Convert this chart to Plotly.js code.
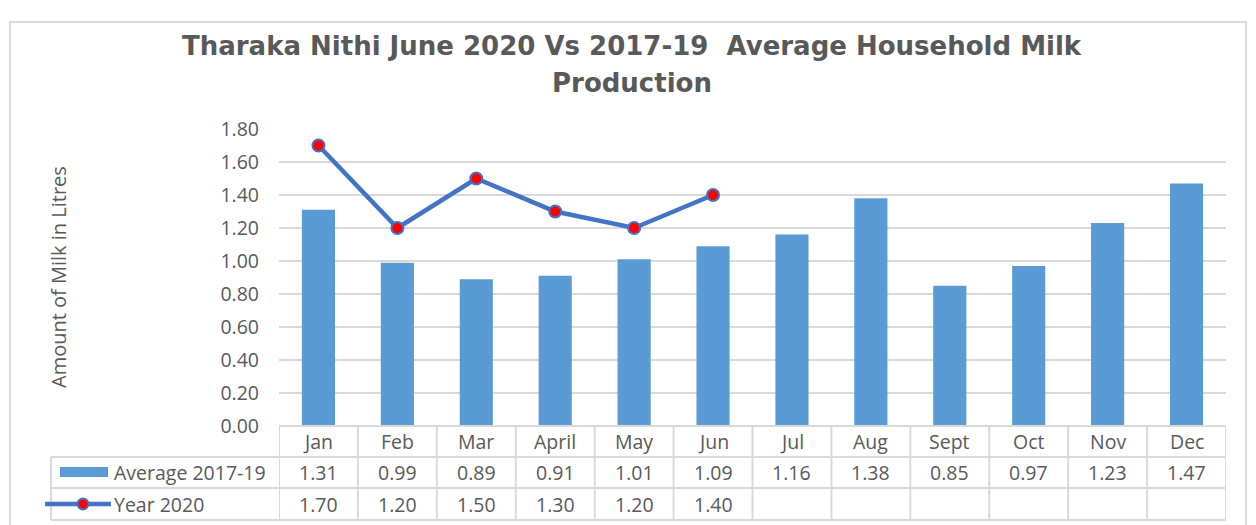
<!DOCTYPE html>
<html><head><meta charset="utf-8">
<script src="https://cdn.plot.ly/plotly-3.0.1.min.js"></script>
<style>html,body{margin:0;padding:0;background:#fff;}#chart{width:1256px;height:525px;}</style>
</head><body><div id="chart"></div>
<script>
const months = ["Jan","Feb","Mar","April","May","Jun","Jul","Aug","Sept","Oct","Nov","Dec"];
const avg2017_19 = [1.31,0.99,0.89,0.91,1.01,1.09,1.16,1.38,0.85,0.97,1.23,1.47];
const year2020 = [1.70,1.20,1.50,1.30,1.20,1.40];
const seriesNames = ["Average 2017-19","Year 2020"];
const yTicks = [0,0.2,0.4,0.6,0.8,1.0,1.2,1.4,1.6,1.8];
const titleLines = ["Tharaka Nithi June 2020 Vs 2017-19  Average Household Milk","Production"];
const yTitle = "Amount of Milk in Litres";

const W=1256,H=525, L=279, R=1226, T=129, B=426;
const pw=R-L, ph=B-T;
const px=x=>(x-L)/pw, py=y=>(B-y)/ph;
const grey='#595959', lineC='#D9D9D9';
const FAM='"Open Sans", sans-serif';
const fnt={family:FAM, size:19.5, color:grey};

const shapes=[], ann=[];
// outer frame
shapes.push({type:'rect',xref:'paper',yref:'paper',x0:px(10),x1:px(1246),y0:py(540),y1:py(22),line:{color:'#D9D9D9',width:2}});
// horizontal table lines
shapes.push({type:'line',xref:'x',yref:'paper',x0:-0.5,x1:11.5,y0:py(426),y1:py(426),line:{color:lineC,width:2}});
[457,488,520].forEach(y=>shapes.push({type:'line',xref:'paper',yref:'paper',x0:px(51),x1:1,y0:py(y),y1:py(y),line:{color:lineC,width:2}}));
// vertical lines
for(let i=0;i<=months.length;i++){
  shapes.push({type:'line',xref:'x',yref:'paper',x0:i-0.5,x1:i-0.5,y0:py(426),y1:py(520),line:{color:lineC,width:2}});
}
shapes.push({type:'line',xref:'paper',yref:'paper',x0:px(51),x1:px(51),y0:py(457),y1:py(520),line:{color:lineC,width:2}});
// legend keys
shapes.push({type:'rect',xref:'paper',yref:'paper',x0:px(60),x1:px(108),y0:py(477),y1:py(467),fillcolor:'#5B9BD5',line:{width:0}});
shapes.push({type:'line',xref:'paper',yref:'paper',x0:px(45),x1:px(111),y0:py(504),y1:py(504),line:{color:'#4472C4',width:4.5}});
shapes.push({type:'circle',xref:'paper',yref:'paper',x0:px(77.5),x1:px(88.5),y0:py(509.5),y1:py(498.5),fillcolor:'#FF0000',line:{color:'#4472C4',width:2}});

months.forEach((m,i)=>{
  ann.push({xref:'x',yref:'paper',x:i,y:py(441.5),text:m,showarrow:false,font:fnt,xanchor:'center',yanchor:'middle'});
  ann.push({xref:'x',yref:'paper',x:i,y:py(472.5),text:avg2017_19[i].toFixed(2),showarrow:false,font:fnt,xanchor:'center',yanchor:'middle'});
  if(i<year2020.length) ann.push({xref:'x',yref:'paper',x:i,y:py(504),text:year2020[i].toFixed(2),showarrow:false,font:fnt,xanchor:'center',yanchor:'middle'});
});
ann.push({xref:'paper',yref:'paper',x:px(112),y:py(472.5),text:seriesNames[0],showarrow:false,font:fnt,xanchor:'left',yanchor:'middle'});
ann.push({xref:'paper',yref:'paper',x:px(112),y:py(504),text:seriesNames[1],showarrow:false,font:fnt,xanchor:'left',yanchor:'middle'});
// title
const tf={family:'"DejaVu Sans", sans-serif',size:26,color:grey};
ann.push({xref:'paper',yref:'paper',x:px(632),y:py(46),text:'<b>'+titleLines[0]+'</b>',showarrow:false,font:tf,xanchor:'center',yanchor:'middle'});
ann.push({xref:'paper',yref:'paper',x:px(632),y:py(83),text:'<b>'+titleLines[1]+'</b>',showarrow:false,font:tf,xanchor:'center',yanchor:'middle'});
// y title
ann.push({xref:'paper',yref:'paper',x:px(58),y:py(277),text:yTitle,textangle:-90,showarrow:false,font:{family:FAM,size:20,color:grey},xanchor:'center',yanchor:'middle'});

const data=[
 {type:'bar',x:months,y:avg2017_19,name:seriesNames[0],marker:{color:'#5B9BD5'}},
 {type:'scatter',mode:'lines+markers',x:months.slice(0,year2020.length),y:year2020,name:seriesNames[1],
  line:{color:'#4472C4',width:4.5},marker:{color:'#FF0000',size:12,line:{color:'#4472C4',width:2}}}
];
const layout={
 width:W,height:H,margin:{l:L,r:W-R,t:T,b:H-B},
 paper_bgcolor:'#fff',plot_bgcolor:'#fff',showlegend:false,bargap:0.58,
 xaxis:{type:'category',range:[-0.5,11.5],showticklabels:false,showgrid:false,zeroline:false,showline:false,ticks:''},
 yaxis:{range:[0,1.8],tickvals:yTicks,ticktext:yTicks.map(v=>v.toFixed(2)),tickfont:fnt,gridcolor:lineC,gridwidth:1.5,
   zeroline:false,showline:false,ticks:'',ticklabelstandoff:19},
 shapes:shapes,annotations:ann
};
Plotly.newPlot('chart',data,layout,{displayModeBar:false,staticPlot:true});
</script></body></html>
